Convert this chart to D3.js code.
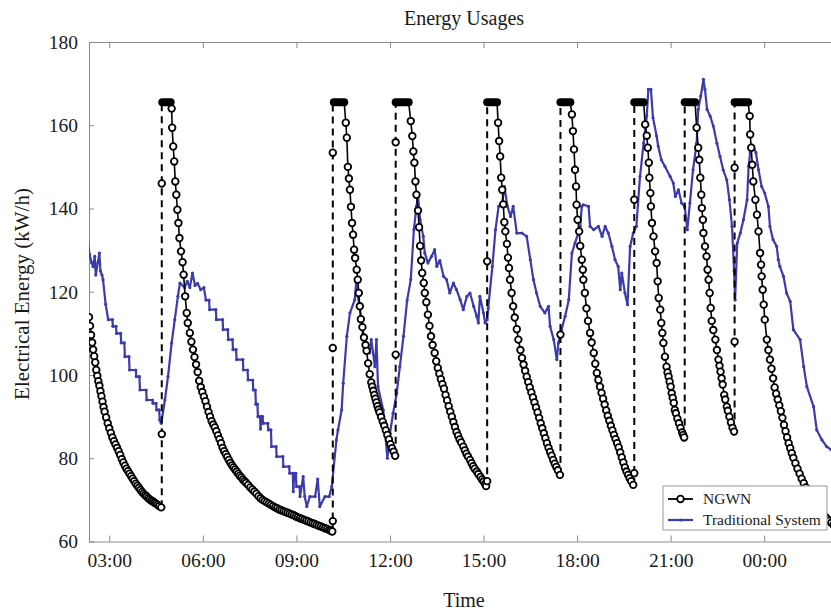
<!DOCTYPE html>
<html>
<head>
<meta charset="utf-8">
<script src="https://cdn.jsdelivr.net/npm/d3@7"></script>
<style>
  body { margin: 0; background: #fff; }
  svg { display: block; font-family: "Liberation Serif", "Times New Roman", serif; }
</style>
</head>
<body>
<div id="chart"></div>
<script>
// time is minutes from 00:00 (values past 1440 are next day), energy in kW/h

// NGWN decay runs, one array per run
var ngwnCycles = [
  [[141,113.9],[143,111.8],[145,109.6],[147,107.8],[149,106.1],[151,104.5],[153,103],[155,101.2],[157,99.8],[159,98.5],[161,97.4],[163,96.1],[165,94.9],[167,93.6],[169,92.3],[171,91.2],[174,89.8],[177,88.4],[180,87.2],[183,86.1],[186,85],[189,84.1],[192,83.3],[195,82.5],[198,81.7],[201,80.8],[204,79.8],[207,79],[210,78.2],[213,77.5],[216,76.9],[219,76.3],[222,75.7],[225,75.1],[228,74.5],[231,73.9],[234,73.4],[237,72.9],[240,72.4],[243,71.9],[246,71.5],[249,71.1],[252,70.8],[255,70.4],[258,70.1],[261,69.8],[264,69.6],[267,69.3],[270,69.1],[273,68.8],[276,68.5],[280,68.2]],
  [[300,164],[301,159.4],[303,154.9],[305,151.3],[307,146.5],[309,143.3],[311,139.7],[313,136.5],[315,132.9],[318,129.7],[321,127.1],[323,124.1],[326,118.9],[329,114.9],[331,112.5],[335,110.1],[338,108],[341,106.1],[344,104.3],[347,102.5],[350,100.7],[353,98.6],[356,97.1],[359,95.9],[362,94.8],[365,93.7],[368,92.4],[371,91.1],[374,90],[377,88.9],[380,88.1],[383,87.4],[386,86.5],[389,85.5],[392,84.6],[395,83.6],[398,82.5],[401,81.7],[404,81],[407,80.3],[410,79.6],[413,78.9],[416,78.3],[419,77.8],[422,77.3],[425,76.8],[428,76.3],[431,75.8],[434,75.4],[437,74.9],[440,74.5],[443,74.1],[447,73.6],[451,73],[455,72.5],[459,72],[463,71.5],[467,70.9],[471,70.4],[475,70],[479,69.7],[483,69.4],[487,69.1],[491,68.8],[495,68.5],[499,68.2],[503,68],[507,67.7],[511,67.5],[515,67.3],[519,67.1],[523,66.9],[527,66.7],[531,66.5],[535,66.3],[539,66],[543,65.8],[547,65.6],[551,65.4],[555,65.2],[559,65],[563,64.8],[567,64.6],[571,64.4],[575,64.2],[579,64],[583,63.8],[587,63.6],[591,63.4],[595,63.2],[599,63],[603,62.8],[606,62.6],[609,62.4]],
  [[635,160.6],[637,157],[639,150],[641,147.2],[643,144.5],[645,140.4],[647,136.5],[649,133.7],[651,130.1],[653,128.1],[656,125.3],[658,122.9],[660,119.7],[662,116.5],[664,113.4],[667,111.5],[670,109],[673,107.2],[675,105.8],[678,102.8],[681,100.2],[684,98.2],[686,97.2],[688,96.2],[690,95.2],[692,94.3],[694,93.4],[696,92.5],[698,91.7],[700,91],[703,89.9],[706,88.8],[709,87.8],[712,86.7],[715,85.6],[718,84.5],[721,83.4],[724,82.4],[727,81.6],[730,80.6]],
  [[760,161],[763,157.4],[765,153.7],[767,151],[769,146.5],[771,143.3],[774,139.5],[776,135.5],[778,131],[780,127.5],[782,124.5],[785,122.1],[787,119.7],[790,117.5],[793,114.5],[796,111.8],[799,109.3],[802,107.2],[806,105.3],[809,103.3],[812,101.7],[815,100.3],[818,99],[821,97.8],[824,96.7],[827,95.2],[830,93.9],[833,92.5],[836,91.2],[839,90],[842,88.7],[845,87.5],[848,86.3],[851,85.4],[854,84.5],[857,83.8],[861,82.8],[864,81.9],[867,81.1],[870,80.4],[874,79.6],[877,78.8],[880,78.1],[883,77.5],[887,76.8],[890,76.2],[894,75.5],[897,74.9],[900,74.4],[903,73.8],[905,73.3]],
  [[928,160.6],[930,156.2],[932,152.5],[934,147.4],[936,144.5],[938,141],[940,136.7],[942,134.5],[945,131.5],[947,128.2],[949,125.7],[951,122.9],[954,119.7],[957,116.5],[960,113.8],[964,111],[967,108.5],[971,106],[974,104.1],[977,102.5],[980,101],[983,99.6],[986,98.3],[989,97],[992,95.8],[995,94.6],[998,93.4],[1001,92.2],[1004,91],[1007,89.7],[1010,88.4],[1013,87.2],[1016,86],[1019,84.8],[1022,83.6],[1025,82.5],[1028,81.5],[1031,80.6],[1034,79.6],[1037,78.7],[1040,77.9],[1043,77.1],[1047,76]],
  [[1070,162.6],[1072,158.6],[1074,154.2],[1076,149.3],[1078,145.3],[1079,140.9],[1081,137.3],[1084,134.5],[1086,131],[1089,127.7],[1091,125.3],[1092,122.9],[1095,119.7],[1098,116],[1101,113],[1105,110.1],[1108,107.8],[1112,105.3],[1115,102.7],[1118,100.5],[1121,98.8],[1124,97.2],[1127,95.7],[1130,94.3],[1133,92.9],[1136,91.5],[1139,90.2],[1142,89],[1145,87.8],[1148,86.7],[1151,85.6],[1154,84.6],[1157,83.6],[1160,82.6],[1163,81.4],[1166,80.2],[1169,79],[1172,77.8],[1175,76.8],[1178,76],[1181,75.2],[1184,74.5],[1188,73.6]],
  [[1211,160.2],[1214,157.5],[1216,154.6],[1218,151],[1219,147.4],[1221,143.7],[1222,140.5],[1224,136.5],[1227,133.3],[1230,129.7],[1233,126.9],[1235,122.5],[1237,118.5],[1240,115.7],[1242,112.5],[1244,110.1],[1246,107.7],[1249,104.4],[1252,102],[1254,100.6],[1256,99.6],[1258,98.4],[1260,97.2],[1262,95.6],[1264,94.5],[1266,93.3],[1268,91.6],[1270,90.8],[1273,89.5],[1276,88.4],[1279,87.3],[1282,86.2],[1284,85.6],[1286,85]],
  [[1310,159.4],[1313,154.6],[1315,151.7],[1317,147.4],[1319,143.3],[1320,140.1],[1322,137.3],[1323,134.1],[1326,130.9],[1329,128.5],[1331,125.3],[1333,122.9],[1335,119.7],[1337,116.1],[1339,113],[1342,110.8],[1346,108.5],[1349,106],[1352,103.7],[1354,102.2],[1356,100.8],[1358,99.2],[1360,97.7],[1363,95.2],[1365,94.1],[1368,92.4],[1370,91.4],[1373,90],[1376,88.6],[1379,87.3],[1382,86.4]],
  [[1412,162.2],[1413,157.8],[1415,154.6],[1417,150.5],[1419,146.5],[1423,142.1],[1426,138.5],[1429,134.5],[1432,129.3],[1434,126.5],[1435,123.7],[1437,120.5],[1439,116.9],[1441,113.3],[1445,108.5],[1448,106],[1451,103.7],[1454,101.5],[1457,99.2],[1460,97],[1463,95.5],[1466,94.1],[1469,92.7],[1472,91.3],[1475,89.7],[1478,88],[1481,86.5],[1484,85],[1487,83.6],[1490,82.4],[1493,81.2],[1496,80.1],[1500,78.8],[1504,77.5],[1508,76.3],[1512,75.1],[1516,74],[1520,73],[1524,72],[1528,71.1],[1533,70.2],[1537,69.4],[1541,68.6],[1545,67.9],[1549,67.2],[1553,66.6],[1557,66],[1561,65.5],[1565,65],[1569,64.5],[1573,64]]
];

// moments where NGWN jumps to its peak, the points read on the way up, and the flat peak spans
var jumpTimes = [281, 610, 731, 907, 1048, 1190, 1287, 1383];
var jumpPoints = [[85.8, 146], [64.9, 106.5, 153.4], [104.9, 155.9], [74.5, 127.3], [109.7], [76.4, 142.1], [], [108, 149.8]];
var peakSpans = [[282, 298], [612, 632], [731, 756], [907, 926], [1048, 1067], [1190, 1208], [1287, 1307], [1383, 1409]];
var peakValue = 165.5;

// Traditional System
var tradData = [[139,131.7],[142,129],[146,127],[149,126],[152,128.5],[154,124],[158,127],[161,129.3],[163,125],[166,124],[168,122.9],[173,117],[178,113.3],[186,113.3],[187,111.7],[193,111.7],[194,110],[202,110],[203,107.7],[209,107.7],[210,104.4],[218,104.4],[219,101.2],[231,101.2],[232,99.6],[238,99.6],[239,96.4],[251,96.4],[252,94],[263,94],[264,93.2],[270,93.2],[271,91.6],[276,91.6],[277,89.2],[280,88.4],[287,94],[293,99.6],[300,107.7],[306,113.3],[312,118.9],[316,122.1],[325,121],[330,122.5],[335,121],[340,124.5],[345,121.5],[350,122],[356,120.5],[362,121],[366,118],[372,118],[373,115.7],[385,115.7],[386,113.3],[398,113.3],[399,110.9],[408,110.9],[409,108.5],[417,108.5],[418,106.1],[424,106.1],[425,103.7],[437,103.7],[438,101.2],[446,101.2],[447,98.8],[456,98.8],[457,96.4],[461,96.4],[462,93],[465,93],[466,90],[470,90],[471,87],[473,90],[475,90],[476,88.4],[485,88.4],[486,86.8],[491,86.8],[492,82.8],[501,82.8],[502,80.4],[514,80.4],[515,78],[526,78],[527,76.4],[533,76.4],[534,72],[536,76.4],[539,76.4],[540,73.2],[546,73.2],[547,70.8],[553,75.6],[556,70.8],[560,68.4],[566,70.8],[576,70.8],[581,75],[585,68.4],[595,70.8],[603,70.8],[608,73.2],[617,84.4],[620,86.8],[627,91.6],[630,98],[637,109.3],[643,114.9],[652,118],[655,122.1],[658,119],[662,116],[668,110],[675,106.8],[681,105.3],[684,108.5],[691,102],[694,108.5],[697,97.2],[707,91.6],[715,80],[720,86],[726,90.8],[733,95.6],[739,102],[746,109.3],[753,118],[760,122.9],[766,134.9],[771,140.5],[774,142.9],[778,137.3],[784,133.3],[787,129.3],[793,126.9],[800,128.5],[806,130.1],[810,126.1],[816,127.5],[823,123.7],[829,122.9],[835,119.7],[842,122.1],[848,120.5],[855,118.1],[861,115.7],[868,118.9],[874,119.7],[881,116.5],[887,114.1],[890,112.5],[893,118.9],[900,114.9],[903,112.5],[907,113.3],[909,116],[917,126.1],[923,134.9],[929,140.5],[936,141.3],[940,145.3],[946,140.5],[952,138.1],[957,140.5],[964,134.1],[974,134.1],[983,133.3],[990,127.7],[996,122.9],[1002,119.7],[1009,116.5],[1018,114.9],[1025,116.5],[1028,111.7],[1035,108.5],[1041,103.7],[1044,107.7],[1050,110.9],[1057,114.1],[1064,118.1],[1070,129.3],[1076,131.7],[1086,135.7],[1089,140.5],[1092,140.9],[1102,140.5],[1105,135.7],[1112,134.9],[1121,135.7],[1128,133.3],[1134,135.7],[1140,134.1],[1147,130.9],[1153,127.7],[1159,126.1],[1163,120.5],[1166,124.5],[1172,119.7],[1177,116.9],[1182,130.9],[1188,134.1],[1194,135.7],[1201,147.7],[1208,155.7],[1214,162.2],[1217,168.6],[1222,168.6],[1226,161.8],[1233,157.4],[1236,155],[1242,151.7],[1249,150.1],[1259,147.7],[1265,146.1],[1269,142.9],[1275,144.5],[1281,141.3],[1287,140.5],[1292,134.9],[1297,141.3],[1303,149.3],[1310,155.7],[1313,163.8],[1318,167],[1323,171],[1326,168.6],[1330,163.8],[1336,162.2],[1342,159.8],[1349,155.7],[1355,152.5],[1361,149.3],[1368,146.9],[1373,142.1],[1378,135.7],[1382,125],[1384,118],[1388,131.7],[1394,134.1],[1400,137.3],[1407,142.1],[1410,150.1],[1413,153.4],[1419,155],[1424,153.4],[1429,149.3],[1435,145.3],[1441,143.7],[1448,140.5],[1451,135.7],[1457,132.5],[1464,130.9],[1467,127.7],[1470,126.1],[1477,123.7],[1483,119.7],[1490,117.7],[1496,110.9],[1509,108.5],[1516,102],[1522,97.2],[1535,92.4],[1541,86.8],[1551,84.4],[1560,82.8],[1569,82],[1585,81]];

var xTicks = [180, 360, 540, 720, 900, 1080, 1260, 1440];
var yTicks = [60, 80, 100, 120, 140, 160, 180];

var svgWidth = 831, svgHeight = 615;
var margin = {top: 42, left: 89, bottom: 73.5, right: -19};
var width = svgWidth - margin.left - margin.right;
var height = svgHeight - margin.top - margin.bottom;

var svg = d3.select("#chart").append("svg")
    .attr("width", svgWidth)
    .attr("height", svgHeight);

var chartGroup = svg.append("g")
    .attr("transform", `translate(${margin.left}, ${margin.top})`);

var xScale = d3.scaleLinear().domain([141, 1605]).range([0, width]);
var yScale = d3.scaleLinear().domain([60, 180]).range([height, 0]);

svg.append("defs").append("clipPath").attr("id", "plotclip")
  .append("rect").attr("x", 0).attr("y", 0).attr("width", width).attr("height", height);

var fmt = m => String(Math.floor(m / 60) % 24).padStart(2, "0") + ":00";
var axisColor = "#8a8a8a";

var xAxis = d3.axisBottom(xScale).tickValues(xTicks).tickFormat(fmt).tickSizeInner(-6).tickSizeOuter(0).tickPadding(12);
var xTop = d3.axisTop(xScale).tickValues(xTicks).tickFormat("").tickSizeInner(-6).tickSizeOuter(0);
var yAxis = d3.axisLeft(yScale).tickValues(yTicks).tickSizeInner(-5).tickSizeOuter(0).tickPadding(11);

var gx = chartGroup.append("g").attr("transform", `translate(0, ${height})`).call(xAxis);
var gt = chartGroup.append("g").call(xTop);
var gy = chartGroup.append("g").call(yAxis);
[gx, gt, gy].forEach(function(g) {
  g.select(".domain").attr("stroke", axisColor);
  g.selectAll(".tick line").attr("stroke", axisColor);
  g.selectAll("text").attr("fill", "#1a1a1a").attr("font-size", "19.5px")
    .attr("font-family", "Liberation Serif, serif");
});

var plot = chartGroup.append("g").attr("clip-path", "url(#plotclip)");

var line = d3.line().x(d => xScale(d[0])).y(d => yScale(d[1]));

// Traditional System
var blue = "#3b3bab";
plot.append("path").datum(tradData)
    .attr("d", line).attr("fill", "none")
    .attr("stroke", blue).attr("stroke-width", 2.2).attr("stroke-linejoin", "round");
plot.selectAll(".tdot").data(tradData).enter().append("circle")
    .attr("class", "tdot")
    .attr("cx", d => xScale(d[0])).attr("cy", d => yScale(d[1]))
    .attr("r", 1.6).attr("fill", blue);

// NGWN jumps (dashed)
jumpTimes.forEach(function(t, i) {
  var low = ngwnCycles[i][ngwnCycles[i].length - 1][1];
  plot.append("line")
    .attr("x1", xScale(t)).attr("x2", xScale(t))
    .attr("y1", yScale(low)).attr("y2", yScale(peakValue))
    .attr("stroke", "#000").attr("stroke-width", 2).attr("stroke-dasharray", "7,5");
});

// NGWN peaks
peakSpans.forEach(function(s, i) {
  plot.append("line")
    .attr("x1", xScale(s[0])).attr("x2", xScale(s[1]))
    .attr("y1", yScale(peakValue)).attr("y2", yScale(peakValue))
    .attr("stroke", "#000").attr("stroke-width", 8).attr("stroke-linecap", "round");
  var first = ngwnCycles[i + 1][0];
  plot.append("path").datum([[s[1], peakValue], first])
    .attr("d", line).attr("fill", "none").attr("stroke", "#000").attr("stroke-width", 1.6);
});

// NGWN decay runs
ngwnCycles.forEach(function(c) {
  plot.append("path").datum(c)
    .attr("d", line).attr("fill", "none").attr("stroke", "#000").attr("stroke-width", 1.6);
  plot.selectAll(null).data(c).enter().append("circle")
    .attr("cx", d => xScale(d[0])).attr("cy", d => yScale(d[1]))
    .attr("r", 3.3).attr("fill", "#fff").attr("stroke", "#000").attr("stroke-width", 1.8);
});

// points on the way up
jumpTimes.forEach(function(t, i) {
  plot.selectAll(null).data(jumpPoints[i]).enter().append("circle")
    .attr("cx", xScale(t)).attr("cy", d => yScale(d))
    .attr("r", 3.3).attr("fill", "#fff").attr("stroke", "#000").attr("stroke-width", 1.8);
});

// title and axis labels
svg.append("text").attr("x", 464).attr("y", 25).attr("text-anchor", "middle")
  .attr("font-size", "20px").attr("fill", "#1a1a1a").text("Energy Usages");
svg.append("text").attr("x", 464).attr("y", 607).attr("text-anchor", "middle")
  .attr("font-size", "20px").attr("fill", "#1a1a1a").text("Time");
svg.append("text").attr("transform", "translate(29, 294) rotate(-90)").attr("text-anchor", "middle")
  .attr("font-size", "21px").attr("fill", "#1a1a1a").text("Electrical Energy (kW/h)");

// legend
var legend = svg.append("g").attr("transform", "translate(663, 486)");
legend.append("rect").attr("width", 164).attr("height", 44)
  .attr("fill", "#fff").attr("stroke", "#9a9a9a").attr("stroke-width", 1);
legend.append("line").attr("x1", 5).attr("x2", 30).attr("y1", 13).attr("y2", 13)
  .attr("stroke", "#000").attr("stroke-width", 1.8);
legend.append("circle").attr("cx", 17.5).attr("cy", 13).attr("r", 3.3)
  .attr("fill", "#fff").attr("stroke", "#000").attr("stroke-width", 1.8);
legend.append("text").attr("x", 40).attr("y", 18).attr("font-size", "15.5px").attr("fill", "#1a1a1a").text("NGWN");
legend.append("line").attr("x1", 5).attr("x2", 30).attr("y1", 34).attr("y2", 34)
  .attr("stroke", blue).attr("stroke-width", 2.2);
legend.append("circle").attr("cx", 17.5).attr("cy", 34).attr("r", 1.6).attr("fill", blue);
legend.append("text").attr("x", 40).attr("y", 39).attr("font-size", "15.5px").attr("fill", "#1a1a1a").text("Traditional System");
</script>
</body>
</html>
